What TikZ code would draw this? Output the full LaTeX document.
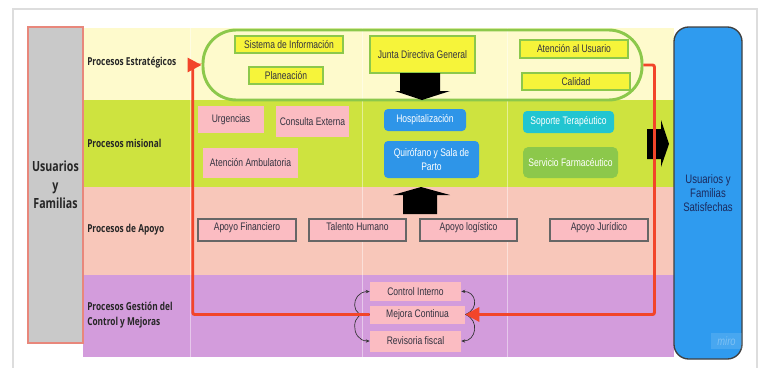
\documentclass[tikz,border=0pt]{standalone}
\usepackage{fontspec}
\newfontfamily\boxfont{Liberation Sans}[FakeStretch=0.78]
\newfontfamily\labfont{Open Sans}[FakeStretch=0.76]
\usepackage{tikz}
\usetikzlibrary{calc,arrows.meta}

\definecolor{bandA}{HTML}{FEFACC}
\definecolor{bandB}{HTML}{CEE33F}
\definecolor{bandC}{HTML}{F8C7BA}
\definecolor{bandD}{HTML}{D39CDC}
\definecolor{boxgray}{HTML}{C9C9C9}
\definecolor{grayred}{HTML}{E8877B}
\definecolor{lgreen}{HTML}{8CC84B}
\definecolor{yfill}{HTML}{F6F43A}
\definecolor{pinkbox}{HTML}{FBBCC2}
\definecolor{bluebox}{HTML}{2E95E8}
\definecolor{cyanbox}{HTML}{22C5D1}
\definecolor{bigblue}{HTML}{2F9BEF}
\definecolor{redline}{HTML}{F2452A}
\definecolor{txtgray}{HTML}{333340}
\definecolor{navy}{HTML}{1B2A5E}
\definecolor{framegray}{HTML}{DDDDDD}

\begin{document}
\begin{tikzpicture}[x=0.75pt,y=-0.75pt]
\tikzstyle{every node}=[font=\boxfont\fontsize{8.2}{9.8}\selectfont, text=txtgray,
                        inner sep=0pt, align=center]
\tikzstyle{lab}=[font=\labfont\bfseries\fontsize{8.2}{10.8}\selectfont, text=black!85,
                 anchor=west, align=left]
\tikzstyle{ybox}=[draw=lgreen, line width=1.5pt, fill=yfill]
\tikzstyle{pbox}=[fill=pinkbox]
\tikzstyle{abox}=[fill=pinkbox, draw=gray!80!black, line width=0.9pt]
\tikzstyle{bbox}=[rounded corners=3pt, fill=bluebox, text=white]
\tikzstyle{rline}=[draw=redline, line width=2.2pt, rounded corners=1.5pt,
                   -{Triangle[length=10.5pt,width=10.5pt]}]
\tikzstyle{curv}=[draw=black!80, line width=0.5pt, -{Stealth[length=3pt,width=2.5pt]}]
\tikzset{wh/.style args={#1/#2}{minimum width=#1*0.75pt, minimum height=#2*0.75pt}}
\useasboundingbox (0,0) rectangle (758,368);

% frame and bands
\draw[framegray, line width=1pt] (13,368) -- (13,9) -- (757,9) -- (757,368);
\foreach \c/\ya/\yb in {bandA/28/100, bandB/100/187, bandC/187/275, bandD/275/357}
  {\fill[\c] (83,\ya) rectangle (674,\yb);}
\foreach \x in {190,362,507}
  {\draw[white, opacity=0.45, line width=0.6pt] (\x,28) -- (\x,357);}

\node[draw=grayred, fill=boxgray, line width=1pt, wh=55/316,
      font=\labfont\bfseries\fontsize{10.5}{14}\selectfont, text=black!85] (usu) at (55.5,185)
      {Usuarios\\y\\Familias};

\node[lab] (lestr) at (87,63) {Procesos Estratégicos};
\node[lab] (lmis) at (87,143) {Procesos misional};
\node[lab] (lapo) at (87,230) {Procesos de Apoyo};
\node[lab] (lges) at (87,315) {Procesos Gestión del\\Control y Mejoras};

% estrategicos
\node[draw=lgreen, line width=2.2pt, rounded corners=25pt, wh=439/70] (estrat) at (422.5,65) {};
\node[ybox, wh=108/17] (sisinfo) at (289,44.5) {Sistema de Información};
\node[ybox, wh=74/17] (planea) at (286,75.5) {Planeación};
\node[ybox, wh=105/37] (junta) at (422.5,54.5) {Junta Directiva General};
\node[ybox, wh=108/18] (atenc) at (574,49) {Atención al Usuario};
\node[ybox, wh=108/17] (calid) at (576,81.5) {Calidad};
\fill (400,73) -- (440,73) -- (440,91) -- (450,91) -- (422,100) -- (395,91) -- (400,91) -- cycle;

% misional
\node[pbox, wh=66/27] (urg) at (231,119.5) {Urgencias};
\node[pbox, wh=73/31] (consulta) at (312.5,121.5) {Consulta Externa};
\node[pbox, wh=95/30] (ambul) at (250.5,163) {Atención Ambulatoria};
\node[bbox, wh=82/22] (hosp) at (425,120) {Hospitalización};
\node[bbox, wh=95/37] (quir) at (431.5,159.5) {Quirófano y Sala de\\Parto};
\node[bbox, fill=cyanbox, wh=91/22] (soporte) at (568.5,122) {Soporte Terapéutico};
\node[bbox, fill=lgreen, rounded corners=4pt, wh=95/31] (farma) at (570.5,162.5) {Servicio Farmacéutico};
\fill (647,129) -- (661,129) -- (661,120) -- (669,144) -- (661,167) -- (661,159) -- (647,159) -- cycle;

% apoyo
\fill (403,214) -- (437,214) -- (437,195) -- (450,195) -- (421,187) -- (393,195) -- (403,195) -- cycle;
\node[abox, wh=98/22] (finan) at (247,230) {\raisebox{5pt}{Apoyo Financiero}};
\node[abox, wh=97/22] (talento) at (357.5,230) {\raisebox{5pt}{Talento Humano}};
\node[abox, wh=97/22] (logis) at (468.5,230) {\raisebox{5pt}{Apoyo logístico}};
\node[abox, wh=98/22] (jurid) at (599,230) {\raisebox{5pt}{Apoyo Jurídico}};

% gestion
\node[pbox, wh=91/19] (control) at (415.5,291.5) {Control Interno};
\node[pbox, wh=95/18] (mejora) at (417.5,314.5) {Mejora Continua};
\node[pbox, wh=91/21] (revis) at (415.5,341) {Revisoria fiscal};
\draw[curv] (mejora.west) .. controls (350,320) and (350,292) .. (control.west);
\draw[curv] (mejora.west) .. controls (350,309) and (350,341) .. (revis.west);
\draw[curv] (mejora.east) .. controls (480,309) and (476,291) .. (control.east);
\draw[curv] (mejora.east) .. controls (480,320) and (476,341) .. (revis.east);

% usuarios satisfechos
\node[draw=black!75, line width=1pt, fill=bigblue, rounded corners=11pt, wh=68/332,
      font=\boxfont\fontsize{9.2}{10.5}\selectfont, text=navy] (satisf) at (708,193)
      {Usuarios y\\Familias\\Satisfechas};
\node[fill=white, fill opacity=0.12, text opacity=0.3, text=white, wh=31/16,
      font=\boxfont\itshape\fontsize{9}{9}\selectfont] (miro) at (726.5,341) {miro};

% ciclo de mejora
\draw[rline] (estrat.east) -- ++(11,0) |- (mejora.east);
\draw[rline] (mejora.west) -- ++(-177,0) |- (estrat.west);
\end{tikzpicture}
\end{document}
